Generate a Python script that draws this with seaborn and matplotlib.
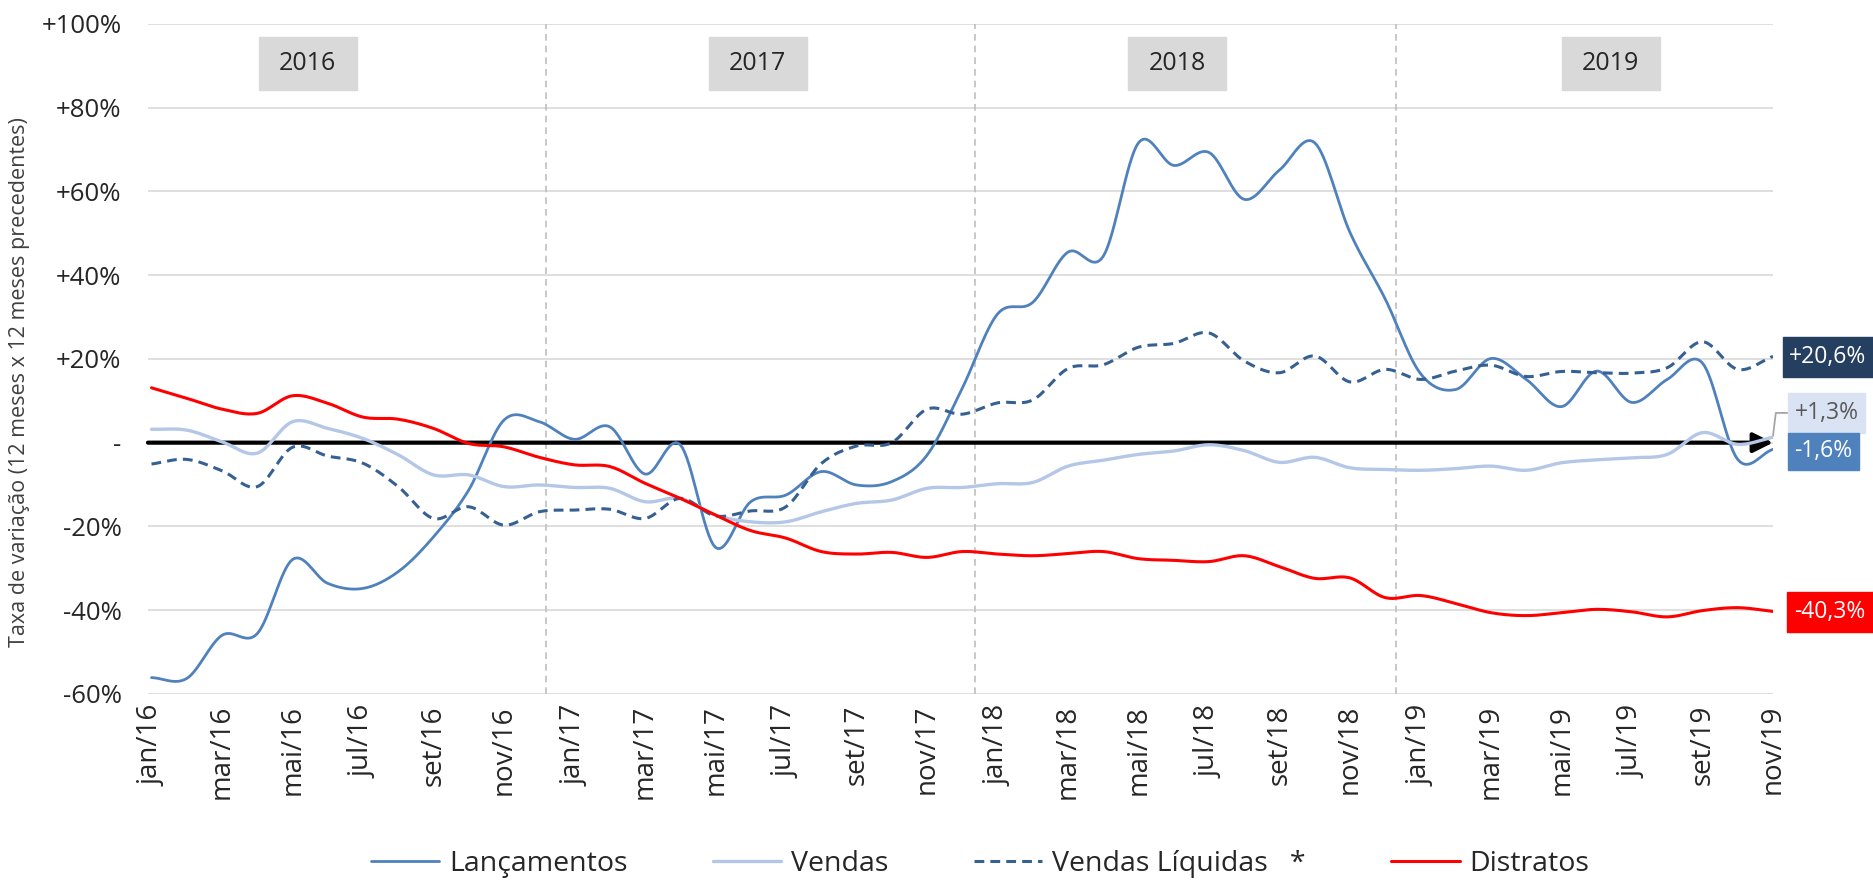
import matplotlib
matplotlib.use('Agg')
import matplotlib.pyplot as plt
import numpy as np
import pandas as pd
import seaborn as sns
from matplotlib.patches import Rectangle

# monthly values jan/16 .. nov/19 (%, 12 months x previous 12 months)
lancamentos = [-56.1, -56.3, -46.0, -45.6, -27.9, -33.6, -34.8, -30.8, -22.5, -11.3, 5.4, 5.0,
               0.8, 3.8, -7.5, -0.5, -25.0, -14.1, -12.5, -6.9, -10.1, -9.3, -3.0, 13.0,
               30.7, 33.5, 45.5, 44.5, 71.6, 66.2, 69.3, 58.1, 65.1, 71.6, 50.2, 34.3,
               16.5, 12.7, 20.1, 15.1, 8.6, 17.1, 9.6, 15.1, 19.0, -4.0, -1.6]
vendas = [3.2, 3.0, 0.2, -2.5, 5.0, 3.4, 1.0, -2.9, -7.7, -7.7, -10.5, -10.1,
          -10.7, -10.9, -14.1, -13.3, -17.3, -18.9, -18.9, -16.5, -14.5, -13.7, -10.9, -10.7,
          -9.8, -9.5, -5.6, -4.2, -2.8, -2.0, -0.5, -1.9, -4.7, -3.5, -6.0, -6.4,
          -6.6, -6.2, -5.6, -6.6, -4.8, -4.1, -3.6, -2.8, 2.4, -0.4, 1.3]
vendas_liquidas = [-5.1, -4.0, -6.7, -10.5, -1.1, -3.2, -4.9, -10.5, -18.1, -15.3, -19.7, -16.5,
                   -16.1, -15.9, -18.1, -13.3, -17.5, -16.3, -15.3, -5.0, -0.8, 0.0, 8.0, 6.8,
                   9.5, 10.2, 17.7, 18.6, 22.8, 23.7, 26.2, 19.5, 16.7, 20.7, 14.5, 17.5,
                   15.1, 17.1, 18.5, 15.8, 17.0, 16.7, 16.6, 17.9, 24.1, 17.5, 20.6]
distratos = [13.1, 10.6, 8.0, 7.0, 11.2, 9.4, 6.1, 5.6, 3.4, -0.2, -1.0, -3.5,
             -5.3, -5.7, -9.7, -13.3, -17.3, -21.0, -22.8, -26.0, -26.6, -26.2, -27.4, -26.0,
             -26.6, -27.0, -26.5, -26.0, -27.7, -28.1, -28.4, -27.0, -29.6, -32.4, -32.3, -37.0,
             -36.5, -38.4, -40.6, -41.3, -40.6, -39.8, -40.4, -41.6, -40.1, -39.4, -40.3]

tick_labels = ['jan/16', 'mar/16', 'mai/16', 'jul/16', 'set/16', 'nov/16',
               'jan/17', 'mar/17', 'mai/17', 'jul/17', 'set/17', 'nov/17',
               'jan/18', 'mar/18', 'mai/18', 'jul/18', 'set/18', 'nov/18',
               'jan/19', 'mar/19', 'mai/19', 'jul/19', 'set/19', 'nov/19']
years = ['2016', '2017', '2018', '2019']
year_pos = [4.43, 17.2, 29.1, 41.4]
year_breaks = [11.2, 23.35, 35.3]
end_labels = ['+20,6%', '+1,3%', '-1,6%', '-40,3%']

series = {'Lançamentos': lancamentos, 'Vendas': vendas,
          'Vendas Líquidas   *': vendas_liquidas, 'Distratos': distratos}
colors = {'Lançamentos': '#4F81BD', 'Vendas': '#B4C7E7',
          'Vendas Líquidas   *': '#376092', 'Distratos': '#FF0000'}
widths = {'Lançamentos': 2.0, 'Vendas': 2.4, 'Vendas Líquidas   *': 2.2, 'Distratos': 2.2}


def smooth(y, n=16):
    # catmull-rom curve through the monthly points (like excel smoothed lines)
    y = np.asarray(y, float)
    p = np.concatenate([[2 * y[0] - y[1]], y, [2 * y[-1] - y[-2]]])
    t = np.linspace(0, 1, n, endpoint=False)
    xs, ys = [], []
    for k in range(len(y) - 1):
        p0, p1, p2, p3 = p[k], p[k + 1], p[k + 2], p[k + 3]
        m1, m2 = (p2 - p0) / 2, (p3 - p1) / 2
        h = (2 * t**3 - 3 * t**2 + 1) * p1 + (t**3 - 2 * t**2 + t) * m1 \
            + (-2 * t**3 + 3 * t**2) * p2 + (t**3 - t**2) * m2
        xs.append(k + t)
        ys.append(h)
    xs.append([len(y) - 1])
    ys.append([y[-1]])
    return np.concatenate(xs), np.concatenate(ys)


sns.set_style('white')
plt.rcParams['font.family'] = ['Open Sans', 'DejaVu Sans']

fig = plt.figure(figsize=(18.73, 8.84), dpi=100)
ax = fig.add_axes([0.079, 0.215, 0.8676, 0.758])

for v in range(-60, 101, 20):
    ax.axhline(v, color='#D9D9D9', lw=1.2, zorder=0)
for xb in year_breaks:
    ax.axvline(xb, color='#BFBFBF', lw=1.2, ls=(0, (4, 3)), zorder=0)

for name, vals in series.items():
    xs, ys = smooth(vals)
    df = pd.DataFrame({'x': xs, 'y': ys})
    sns.lineplot(data=df, x='x', y='y', ax=ax, color=colors[name], lw=widths[name],
                 sort=False, estimator=None, label=name,
                 linestyle='--' if 'Líquidas' in name else '-',
                 dashes=False, zorder=3)
for line in ax.get_lines():
    if line.get_label().startswith('Vendas Líquidas'):
        line.set_dashes([3.2, 2.0])

# zero line with arrow
ax.annotate('', xy=(46, 0), xytext=(-0.1, 0),
            arrowprops=dict(arrowstyle='-|>,head_length=0.6,head_width=0.3', color='black',
                            lw=3, mutation_scale=20, shrinkA=0, shrinkB=0), zorder=2)

# year boxes
for yr, xp in zip(years, year_pos):
    ax.add_patch(Rectangle((xp - 1.39, 84.3), 2.78, 12.6, color='#D9D9D9', zorder=1))
    ax.text(xp, 90.6, yr, ha='center', va='center', fontsize=18, color='#262626')

# end-of-series labels
boxes = [(46.28, 15.7, 2.55, 9.55, '#253F61', 'white'),
         (46.42, 2.33, 2.19, 9.55, '#DAE3F3', '#595959'),
         (46.42, -6.5, 2.02, 8.83, '#4F81BD', 'white'),
         (46.40, -45.2, 2.43, 9.55, '#FF0000', 'white')]
for lab, (bx, by, bw, bh, fc, tc) in zip(end_labels, boxes):
    ax.add_patch(Rectangle((bx, by), bw, bh, color=fc, clip_on=False, zorder=4))
    ax.text(bx + bw / 2, by + bh / 2, lab, ha='center', va='center', fontsize=16.5,
            color=tc, clip_on=False, zorder=5)
ax.plot([46.0, 46.08, 46.42], [1.6, 7.1, 7.1], color='#A6A6A6', lw=1.3, clip_on=False)

ax.set_xlim(-0.1, 46)
ax.set_ylim(-60, 100)
ax.set_xticks(range(0, 47, 2))
ax.set_xticklabels(tick_labels, rotation=90, fontsize=20, color='#262626')
ax.set_yticks(range(-60, 101, 20))
ax.set_yticklabels(['-60%', '-40%', '-20%', '-', '+20%', '+40%', '+60%', '+80%', '+100%'],
                   fontsize=18.5, color='#262626')
ax.tick_params(axis='both', length=0)
ax.tick_params(axis='y', pad=19)
ax.tick_params(axis='x', pad=8)
ax.set_xlabel('')
ax.set_ylabel('')
for s in ax.spines.values():
    s.set_visible(False)

fig.text(20 / 1873, 1 - 382 / 884, 'Taxa de variação (12 meses x 12 meses precedentes)',
         rotation=90, ha='center', va='center', fontsize=15.5, color='#404040')

handles, labels = ax.get_legend_handles_labels()
ax.get_legend().remove()
fig.legend(handles, labels, loc='center', bbox_to_anchor=(980 / 1873, 1 - 864 / 884),
           ncol=4, frameon=False, fontsize=20.5, handlelength=2.4, handletextpad=0.35,
           columnspacing=3.0)

fig.savefig('out.png', dpi=100)
